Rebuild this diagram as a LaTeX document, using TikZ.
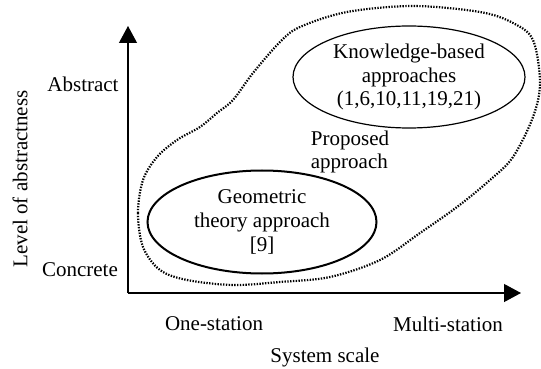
\documentclass[tikz,border=0pt]{standalone}
\usepackage{fontspec}
\setmainfont{Liberation Serif}
\usetikzlibrary{arrows.meta,shapes.geometric}
\tikzset{
  axis/.style={-{Triangle[length=8.5pt,width=9pt]},line width=0.6pt},
  approach/.style={draw,ellipse,align=center,inner sep=0pt},
  region/.style={line width=1.1pt,dash pattern=on 0.7pt off 0.7pt}
}
\begin{document}
\begin{tikzpicture}[x=0.5pt,y=-0.5pt,font=\fontsize{10.5}{11.8}\selectfont]
   \useasboundingbox (0,0) rectangle (541,369);
   % axes
   \coordinate (o) at (128,293);
   \coordinate (ytop) at (128,26);
   \coordinate (xend) at (521,293);
   \draw[axis] (o) -- (ytop);
   \draw[axis] (o) -- (xend);
   % proposed region
   \draw[region] plot[smooth cycle,tension=0.55] coordinates {
      (143,180) (138,213) (143,247) (160,270) (187,280) (233,285) (280,282)
      (330,277) (380,260) (420,233) (457,207) (490,180) (513,157) (533,117)
      (540,83) (533,40) (513,23) (480,12) (413,6) (347,12) (300,27) (280,42)
      (253,73) (233,100) (217,113) (200,127) (177,140) (157,157)};
   % approaches
   \node[approach,line width=1pt,minimum width=114.5pt,minimum height=51.5pt] (geo) at (262,222)
      {Geometric\\theory approach\\{[9]}};
   \node[approach,line width=0.6pt,minimum width=116pt,minimum height=51pt] (kb) at (409,77)
      {Knowledge-based\\approaches\\(1,6,10,11,19,21)};
   \node[align=left] (prop) at (350,152) {Proposed\\approach};
   % axis labels
   \node (abs) at (83,84) {Abstract};
   \node (con) at (80,270) {Concrete};
   \node[rotate=90] (lev) at (20,179) {Level of abstractness};
   \node (one) at (214,324) {One-station};
   \node (multi) at (448,324) {Multi-station};
   \node (sys) at (325,357) {System scale};
\end{tikzpicture}
\end{document}
